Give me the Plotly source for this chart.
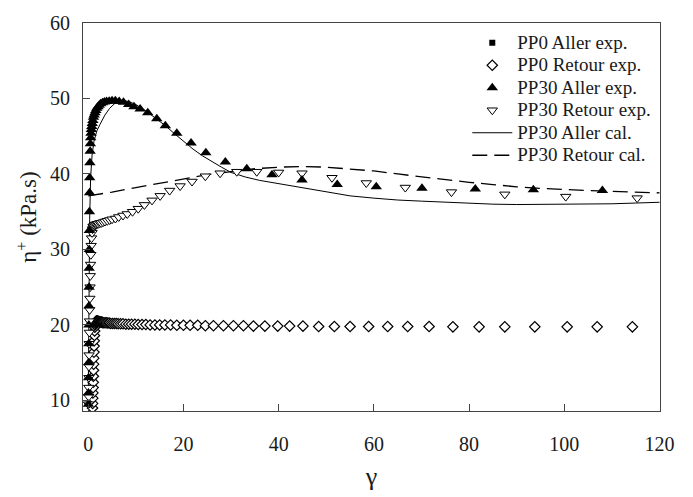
import plotly.graph_objects as go

# ---------------- data ----------------
pp0_gamma = [0.90, 0.93, 0.96, 0.99, 1.02, 1.05, 1.08, 1.11, 1.14, 1.17, 1.20, 1.23, 1.26,
             1.30, 1.34, 1.38, 1.43, 1.48, 1.54, 1.61, 1.70, 1.80, 1.91, 2.02, 2.14, 2.27,
             2.41, 2.56, 2.72, 2.85, 2.95, 3.06, 3.29, 3.54, 3.8, 4.1, 4.4, 4.7, 5.1, 5.5,
             5.9, 6.3, 6.8, 7.3, 7.9, 8.5, 9.1, 9.8, 10.5, 11.3, 12.1, 13.0, 14.0, 15.0,
             16.1, 17.3, 18.6, 20.0, 21.4, 23.0, 24.6, 26.3, 28.4, 30.5, 32.6, 34.7, 37.1,
             39.8, 42.3, 45.1, 48.4, 51.7, 55.0, 58.9, 62.9, 67.1, 71.6, 76.6, 82.1, 87.5,
             93.8, 100.6, 106.9, 114.3]
pp0_aller_eta = [9.2, 9.9, 10.6, 11.3, 12.0, 12.7, 13.5, 14.3, 15.1, 15.9, 16.7, 17.4, 18.1,
                 18.8, 19.4, 19.8, 20.1, 20.3, 20.4, 20.45, 20.5, 20.5, 20.5, 20.5, 20.45,
                 20.45, 20.4, 20.4, 20.4, 20.35, 20.35, 20.3, 20.3, 20.3, 20.3, 20.25, 20.25,
                 20.2, 20.2, 20.2, 20.2, 20.15, 20.15, 20.15, 20.1, 20.1, 20.1, 20.1, 20.05,
                 20.05, 20.05, 20.0, 20.0, 20.0, 20.0, 20.0, 19.95, 19.95, 19.95, 19.95, 19.9,
                 19.9, 19.9, 19.9, 19.9, 19.85, 19.85, 19.85, 19.85, 19.85, 19.8, 19.8, 19.8,
                 19.8, 19.8, 19.8, 19.8, 19.75, 19.75, 19.75, 19.75, 19.75, 19.75, 19.75]
pp0_retour_eta = [9.0, 9.6, 10.3, 11.0, 11.7, 12.4, 13.2, 14.0, 14.8, 15.6, 16.4, 17.2, 17.9,
                  18.6, 19.2, 19.7, 20.0, 20.2, 20.35, 20.45, 20.5, 20.5, 20.5, 20.5, 20.45,
                  20.45, 20.4, 20.4, 20.4, 20.35, 20.35, 20.3, 20.3, 20.3, 20.3, 20.25, 20.25,
                  20.2, 20.2, 20.2, 20.2, 20.15, 20.15, 20.15, 20.1, 20.1, 20.1, 20.1, 20.05,
                  20.05, 20.05, 20.0, 20.0, 20.0, 20.0, 20.0, 19.95, 19.95, 19.95, 19.95, 19.9,
                  19.9, 19.9, 19.9, 19.9, 19.85, 19.85, 19.85, 19.85, 19.85, 19.8, 19.8, 19.8,
                  19.8, 19.8, 19.8, 19.8, 19.75, 19.75, 19.75, 19.75, 19.75, 19.75, 19.75]

pp30_aller_gamma = [0.03, 0.05, 0.07, 0.09, 0.11, 0.13, 0.15, 0.17, 0.19, 0.21, 0.23, 0.25,
                    0.28, 0.31, 0.35, 0.40, 0.45, 0.51, 0.58, 0.66, 0.75, 0.85, 0.97, 1.1,
                    1.25, 1.42, 1.6, 1.8, 2.05, 2.3, 2.6, 3.0, 3.4, 3.85, 4.4, 5.0, 5.7, 6.5,
                    7.4, 8.5, 9.6, 10.9, 12.5, 14.4, 16.2, 18.6, 21.6, 24.7, 28.8, 33.3, 38.6,
                    44.9, 52.3, 60.5, 70.1, 81.3, 93.5, 108.0]
pp30_aller_eta = [9.5, 11.0, 13.0, 15.0, 17.5, 20.0, 22.5, 25.0, 27.5, 30.0, 32.5, 35.0,
                  37.5, 39.5, 41.5, 43.0, 44.0, 44.8, 45.4, 45.9, 46.3, 46.7, 47.1, 47.5,
                  47.8, 48.1, 48.4, 48.7, 48.9, 49.1, 49.3, 49.45, 49.55, 49.6, 49.65, 49.7,
                  49.7, 49.6, 49.5, 49.2, 48.9, 48.6, 48.1, 47.3, 46.4, 45.4, 44.1, 42.8,
                  41.6, 40.7, 39.9, 39.2, 38.6, 38.3, 38.1, 38.0, 37.9, 37.8]

pp30_retour_gamma = [0.07, 0.09, 0.11, 0.13, 0.15, 0.17, 0.20, 0.23, 0.26, 0.30, 0.34, 0.38,
                     0.43, 0.49, 0.55, 0.62, 0.70, 0.80, 0.90, 1.0, 1.15, 1.3, 1.5, 1.7, 1.9,
                     2.1, 2.4, 2.7, 3.1, 3.5, 4.0, 4.5, 5.0, 5.7, 6.4, 7.3, 8.2, 9.3, 10.5,
                     11.8, 13.4, 15.1, 17.1, 19.3, 21.8, 24.6, 27.7, 31.2, 35.4, 40.0, 44.9,
                     51.2, 58.4, 66.6, 76.3, 87.5, 100.3, 115.3]
pp30_retour_eta = [9.5, 10.5, 11.7, 13.0, 14.5, 16.0, 17.5, 19.0, 20.5, 22.0, 23.5, 25.0,
                   26.5, 28.0, 29.3, 30.5, 31.5, 32.2, 32.7, 33.0, 33.1, 33.2, 33.3, 33.3,
                   33.4, 33.4, 33.5, 33.5, 33.6, 33.7, 33.8, 33.9, 34.0, 34.1, 34.3, 34.5,
                   34.7, 35.0, 35.4, 35.9, 36.5, 37.1, 37.8, 38.4, 39.0, 39.7, 40.1, 40.3,
                   40.3, 40.2, 40.1, 39.5, 38.8, 38.2, 37.6, 37.3, 37.0, 36.8]

cal_aller_gamma = [0, 0.1, 0.2, 0.3, 0.5, 0.8, 1.2, 1.8, 2.5, 3.5, 4.5, 5.5, 6.5, 7.5, 8.5, 10,
                   12, 14, 16, 18, 20, 22, 24, 26, 28, 30, 33, 36, 40, 45, 50, 55, 60, 65, 70,
                   75, 80, 85, 90, 95, 100, 105, 110, 115, 120]
cal_aller_eta = [10.0, 20.0, 28.0, 34.0, 39.5, 42.5, 44.3, 45.7, 46.6, 47.8, 48.7, 49.3, 49.6,
                 49.7, 49.6, 49.2, 48.4, 47.5, 46.5, 45.4, 44.3, 43.3, 42.4, 41.6, 40.9, 40.2,
                 39.6, 39.15, 38.7, 38.2, 37.6, 37.1, 36.8, 36.55, 36.4, 36.25, 36.1, 36.0,
                 35.95, 35.95, 35.95, 36.0, 36.05, 36.15, 36.25]

cal_retour_gamma = [0, 5, 10, 15, 20, 25, 30, 35, 40, 45, 50, 55, 60, 65, 70, 75, 80, 85, 90,
                    95, 100, 105, 110, 115, 120]
cal_retour_eta = [37.1, 37.6, 38.2, 38.8, 39.4, 39.9, 40.3, 40.7, 40.9, 41.0, 40.9, 40.7, 40.4,
                  40.0, 39.6, 39.2, 38.9, 38.6, 38.3, 38.1, 37.9, 37.8, 37.7, 37.6, 37.5]

x_ticks = [0, 20, 40, 60, 80, 100, 120]
y_ticks = [10, 20, 30, 40, 50, 60]

# ---------------- figure ----------------
FONT = "'Liberation Serif', 'Times New Roman', Times, 'DejaVu Serif', serif"
TXT = "#1a1a1a"


def lg(name):
    # legend row height follows legend.font.size; text itself drawn larger
    return '<span style="font-size:19px">' + name + '</span>'


fig = go.Figure()

fig.add_trace(go.Scatter(x=cal_aller_gamma, y=cal_aller_eta, mode="lines",
                         name=lg("PP30 Aller cal."), legendrank=5,
                         line=dict(color="black", width=1)))
fig.add_trace(go.Scatter(x=cal_retour_gamma, y=cal_retour_eta, mode="lines",
                         name=lg("PP30 Retour cal."), legendrank=6,
                         line=dict(color="black", width=1.3, dash="15px,7px")))
fig.add_trace(go.Scatter(x=pp0_gamma, y=pp0_aller_eta, mode="markers",
                         name=lg("PP0 Aller exp."), legendrank=1,
                         marker=dict(symbol="square", size=6, color="black")))
fig.add_trace(go.Scatter(x=pp0_gamma, y=pp0_retour_eta, mode="markers",
                         name=lg("PP0 Retour exp."), legendrank=2,
                         marker=dict(symbol="diamond", size=8, color="white",
                                     line=dict(color="black", width=1.2))))
fig.add_trace(go.Scatter(x=pp30_retour_gamma, y=pp30_retour_eta, mode="markers",
                         name=lg("PP30 Retour exp."), legendrank=4,
                         marker=dict(symbol="triangle-down", size=9, color="white",
                                     line=dict(color="black", width=1))))
fig.add_trace(go.Scatter(x=pp30_aller_gamma, y=pp30_aller_eta, mode="markers",
                         name=lg("PP30 Aller exp."), legendrank=3,
                         marker=dict(symbol="triangle-up", size=10, color="black")))

axis_common = dict(showgrid=False, zeroline=False, showline=True, linecolor="#444444",
                   linewidth=1, mirror=True, ticks="inside", ticklen=7, tickcolor="#444444",
                   tickfont=dict(family=FONT, size=20, color=TXT))

fig.update_xaxes(range=[-1.1, 120.1], tickvals=x_ticks, ticklabelstandoff=15,
                 title=dict(text="γ", font=dict(family=FONT, size=26, color=TXT),
                            standoff=12),
                 **axis_common)
fig.update_yaxes(range=[8.6, 60], tickvals=y_ticks, ticklabelstandoff=8,
                 title=dict(text="η<sup>+</sup> (kPa.s)",
                            font=dict(family=FONT, size=23, color=TXT), standoff=6),
                 **axis_common)

fig.update_layout(
    width=693, height=497,
    margin=dict(l=83, r=33, t=16, b=75),
    paper_bgcolor="white", plot_bgcolor="white",
    showlegend=True,
    legend=dict(x=0.666, y=0.991, xanchor="left", yanchor="top",
                bgcolor="rgba(0,0,0,0)", borderwidth=0,
                font=dict(family=FONT, size=15, color=TXT),
                itemwidth=40),
)

fig.write_html("out.html")
